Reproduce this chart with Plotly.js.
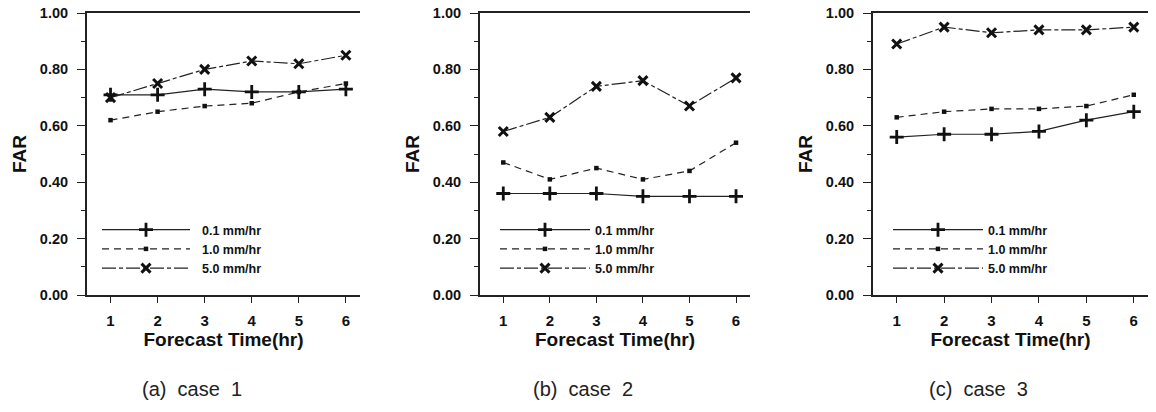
<!DOCTYPE html>
<html><head><meta charset="utf-8">
<script src="https://cdn.plot.ly/plotly-3.0.1.min.js"></script>
<style>body{margin:0;background:#fff}#chart{width:1156px;height:412px}</style>
</head><body><div id="chart"></div>
<script>
const forecastHours = [1, 2, 3, 4, 5, 6];
const seriesNames = ['0.1 mm/hr', '1.0 mm/hr', '5.0 mm/hr'];
const caseLabels = ['(a)&#160; case&#160; 1', '(b)&#160; case&#160; 2', '(c)&#160; case&#160; 3'];

const case1_r01 = [0.71, 0.71, 0.73, 0.72, 0.72, 0.73];
const case1_r10 = [0.62, 0.65, 0.67, 0.68, 0.72, 0.75];
const case1_r50 = [0.70, 0.75, 0.80, 0.83, 0.82, 0.85];

const case2_r01 = [0.36, 0.36, 0.36, 0.35, 0.35, 0.35];
const case2_r10 = [0.47, 0.41, 0.45, 0.41, 0.44, 0.54];
const case2_r50 = [0.58, 0.63, 0.74, 0.76, 0.67, 0.77];

const case3_r01 = [0.56, 0.57, 0.57, 0.58, 0.62, 0.65];
const case3_r10 = [0.63, 0.65, 0.66, 0.66, 0.67, 0.71];
const case3_r50 = [0.89, 0.95, 0.93, 0.94, 0.94, 0.95];

const yTickVals = [0, 0.2, 0.4, 0.6, 0.8, 1.0];
const yTickText = ['0.00', '0.20', '0.40', '0.60', '0.80', '1.00'];

const cases = [
  [case1_r01, case1_r10, case1_r50],
  [case2_r01, case2_r10, case2_r50],
  [case3_r01, case3_r10, case3_r50]
];

const W = 1156, H = 412;
const xDomainsPx = [[87, 360], [480, 750], [873, 1148]];
const yDom = [1 - 295 / H, 1 - 13 / H];

const styles = [
  {dash: 'solid', marker: {symbol: 'cross-thin-open', size: 10, line: {width: 2.8, color: '#111'}, color: '#111'}},
  {dash: '7px,5px', marker: {symbol: 'square', size: 4.5, color: '#111', line: {width: 0}}},
  {dash: '14px,3px,4px,3px', marker: {symbol: 'x-thin-open', size: 9, line: {width: 3, color: '#111'}, color: '#111'}}
];

const traces = [];
cases.forEach((c, p) => {
  c.forEach((vals, s) => {
    traces.push({
      x: forecastHours, y: vals, type: 'scatter', mode: 'lines+markers',
      name: seriesNames[s],
      xaxis: p === 0 ? 'x' : 'x' + (p + 1),
      yaxis: p === 0 ? 'y' : 'y' + (p + 1),
      legend: p === 0 ? 'legend' : 'legend' + (p + 1),
      line: {color: '#222', width: 1.2, dash: styles[s].dash},
      marker: styles[s].marker,
      showlegend: true
    });
  });
});

const font = {family: 'Liberation Sans, Arial, sans-serif', color: '#111'};
const layout = {
  width: W, height: H,
  margin: {l: 0, r: 0, t: 0, b: 0},
  paper_bgcolor: '#fff', plot_bgcolor: '#fff',
  font: font,
  annotations: []
};

xDomainsPx.forEach((d, p) => {
  const sx = p === 0 ? '' : String(p + 1);
  layout['xaxis' + sx] = {
    domain: [d[0] / W, d[1] / W],
    anchor: 'y' + sx,
    range: [0.5, 6.3],
    tickvals: forecastHours,
    ticks: 'outside', ticklen: 6, tickwidth: 1, tickcolor: '#222',
    ticklabelstandoff: 5,
    showline: true, linecolor: '#222', linewidth: 2, mirror: true,
    showgrid: false, zeroline: false,
    tickfont: {family: 'Liberation Sans, Arial', size: 15, color: '#111', weight: 'bold'},
    title: {text: '<b>Forecast Time(hr)</b>', font: {family: 'Liberation Sans, Arial', size: 19, color: '#111'}, standoff: 2}
  };
  layout['yaxis' + sx] = {
    domain: yDom,
    anchor: 'x' + sx,
    range: [0, 1.0],
    tickvals: yTickVals, ticktext: yTickText,
    ticks: 'outside', ticklen: 8, tickwidth: 1, tickcolor: '#222',
    ticklabelstandoff: 6,
    minor: {dtick: 0.1, tick0: 0, ticks: 'outside', ticklen: 4, tickcolor: '#222', showgrid: false},
    showline: true, linecolor: '#222', linewidth: 2, mirror: false,
    showgrid: false, zeroline: false,
    tickfont: {family: 'Liberation Sans, Arial', size: 14.5, color: '#111', weight: 'bold'},
    title: {text: '<b>FAR</b>', font: {family: 'Liberation Sans, Arial', size: 19, color: '#111'}, standoff: 8}
  };
  const lg = p === 0 ? 'legend' : 'legend' + (p + 1);
  layout[lg] = {
    x: (d[0] + 15) / W, y: 1 - 215 / H, xanchor: 'left', yanchor: 'top',
    bgcolor: 'rgba(0,0,0,0)', borderwidth: 0,
    font: {family: 'Liberation Sans, Arial', size: 12.5, color: '#111', weight: 'bold'},
    itemwidth: 90, tracegroupgap: 0
  };
  layout.annotations.push({
    text: caseLabels[p], xref: 'paper', yref: 'paper',
    x: ((d[0] + d[1]) / 2 - 32) / W, y: 1 - 389 / H, xanchor: 'center', yanchor: 'middle',
    showarrow: false, font: {family: 'Liberation Sans, Arial', size: 20, color: '#222'}
  });
});

function stretchLegendSamples() {
  document.querySelectorAll('.legend .traces').forEach(tr => {
    tr.querySelectorAll('.legendlines path').forEach(pth => pth.setAttribute('d', 'M0,0h88'));
    tr.querySelectorAll('.legendsymbols path.scatterpts').forEach(pt => pt.setAttribute('transform', 'translate(44,0)'));
  });
}

Plotly.newPlot('chart', traces, layout, {displayModeBar: false, staticPlot: true}).then(stretchLegendSamples);
</script>
</body></html>
